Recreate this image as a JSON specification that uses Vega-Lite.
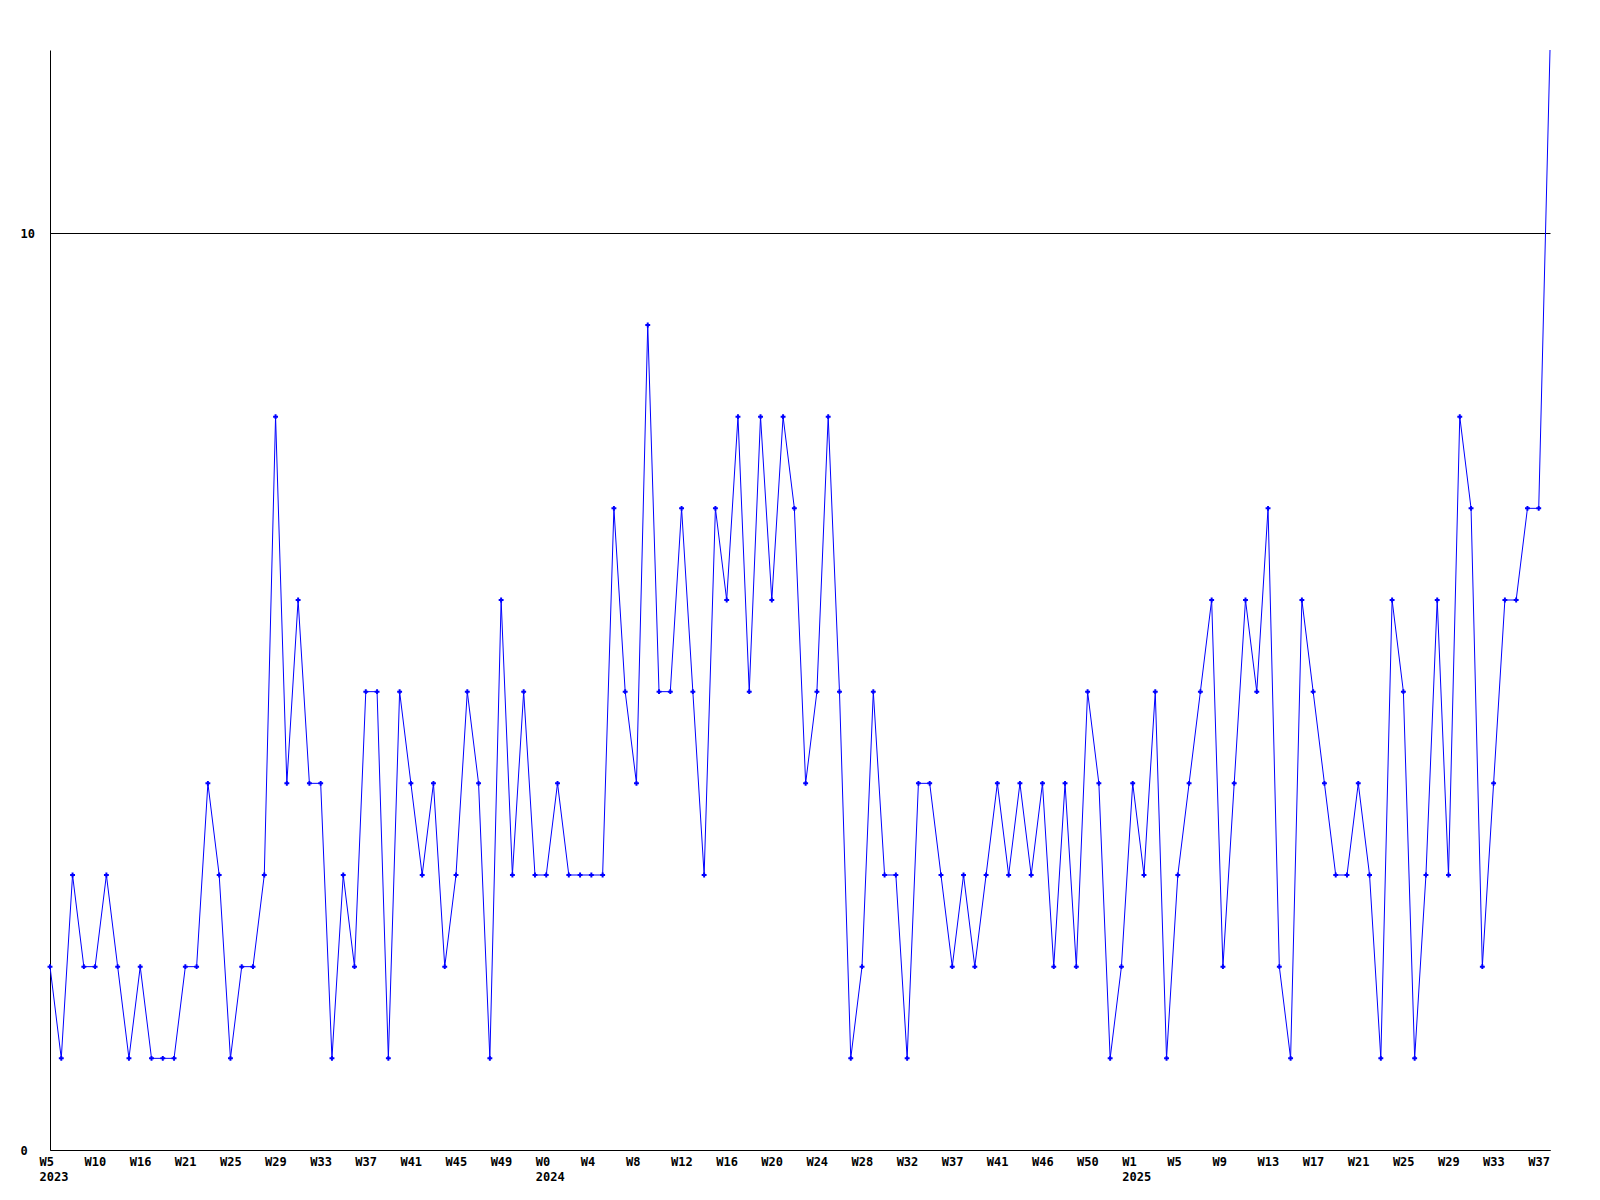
{
  "$schema": "https://vega.github.io/schema/vega-lite/v6.json",
  "autosize": {"type": "none"},
  "padding": {"left": 50, "top": 50, "right": 50, "bottom": 50},
  "width": 1500,
  "height": 1100,
  "background": "white",
  "config": {"view": {"stroke": null}},
  "data": {"values": [
    {"key": "0|W5|2023", "n": 2}, {"key": "1||", "n": 1}, {"key": "2||", "n": 3}, {"key": "3||", "n": 2},
    {"key": "4|W10|", "n": 2}, {"key": "5||", "n": 3}, {"key": "6||", "n": 2}, {"key": "7||", "n": 1},
    {"key": "8|W16|", "n": 2}, {"key": "9||", "n": 1}, {"key": "10||", "n": 1}, {"key": "11||", "n": 1},
    {"key": "12|W21|", "n": 2}, {"key": "13||", "n": 2}, {"key": "14||", "n": 4}, {"key": "15||", "n": 3},
    {"key": "16|W25|", "n": 1}, {"key": "17||", "n": 2}, {"key": "18||", "n": 2}, {"key": "19||", "n": 3},
    {"key": "20|W29|", "n": 8}, {"key": "21||", "n": 4}, {"key": "22||", "n": 6}, {"key": "23||", "n": 4},
    {"key": "24|W33|", "n": 4}, {"key": "25||", "n": 1}, {"key": "26||", "n": 3}, {"key": "27||", "n": 2},
    {"key": "28|W37|", "n": 5}, {"key": "29||", "n": 5}, {"key": "30||", "n": 1}, {"key": "31||", "n": 5},
    {"key": "32|W41|", "n": 4}, {"key": "33||", "n": 3}, {"key": "34||", "n": 4}, {"key": "35||", "n": 2},
    {"key": "36|W45|", "n": 3}, {"key": "37||", "n": 5}, {"key": "38||", "n": 4}, {"key": "39||", "n": 1},
    {"key": "40|W49|", "n": 6}, {"key": "41||", "n": 3}, {"key": "42||", "n": 5}, {"key": "43||", "n": 3},
    {"key": "44|W0|2024", "n": 3}, {"key": "45||", "n": 4}, {"key": "46||", "n": 3}, {"key": "47||", "n": 3},
    {"key": "48|W4|", "n": 3}, {"key": "49||", "n": 3}, {"key": "50||", "n": 7}, {"key": "51||", "n": 5},
    {"key": "52|W8|", "n": 4}, {"key": "53||", "n": 9}, {"key": "54||", "n": 5}, {"key": "55||", "n": 5},
    {"key": "56|W12|", "n": 7}, {"key": "57||", "n": 5}, {"key": "58||", "n": 3}, {"key": "59||", "n": 7},
    {"key": "60|W16|", "n": 6}, {"key": "61||", "n": 8}, {"key": "62||", "n": 5}, {"key": "63||", "n": 8},
    {"key": "64|W20|", "n": 6}, {"key": "65||", "n": 8}, {"key": "66||", "n": 7}, {"key": "67||", "n": 4},
    {"key": "68|W24|", "n": 5}, {"key": "69||", "n": 8}, {"key": "70||", "n": 5}, {"key": "71||", "n": 1},
    {"key": "72|W28|", "n": 2}, {"key": "73||", "n": 5}, {"key": "74||", "n": 3}, {"key": "75||", "n": 3},
    {"key": "76|W32|", "n": 1}, {"key": "77||", "n": 4}, {"key": "78||", "n": 4}, {"key": "79||", "n": 3},
    {"key": "80|W37|", "n": 2}, {"key": "81||", "n": 3}, {"key": "82||", "n": 2}, {"key": "83||", "n": 3},
    {"key": "84|W41|", "n": 4}, {"key": "85||", "n": 3}, {"key": "86||", "n": 4}, {"key": "87||", "n": 3},
    {"key": "88|W46|", "n": 4}, {"key": "89||", "n": 2}, {"key": "90||", "n": 4}, {"key": "91||", "n": 2},
    {"key": "92|W50|", "n": 5}, {"key": "93||", "n": 4}, {"key": "94||", "n": 1}, {"key": "95||", "n": 2},
    {"key": "96|W1|2025", "n": 4}, {"key": "97||", "n": 3}, {"key": "98||", "n": 5}, {"key": "99||", "n": 1},
    {"key": "100|W5|", "n": 3}, {"key": "101||", "n": 4}, {"key": "102||", "n": 5}, {"key": "103||", "n": 6},
    {"key": "104|W9|", "n": 2}, {"key": "105||", "n": 4}, {"key": "106||", "n": 6}, {"key": "107||", "n": 5},
    {"key": "108|W13|", "n": 7}, {"key": "109||", "n": 2}, {"key": "110||", "n": 1}, {"key": "111||", "n": 6},
    {"key": "112|W17|", "n": 5}, {"key": "113||", "n": 4}, {"key": "114||", "n": 3}, {"key": "115||", "n": 3},
    {"key": "116|W21|", "n": 4}, {"key": "117||", "n": 3}, {"key": "118||", "n": 1}, {"key": "119||", "n": 6},
    {"key": "120|W25|", "n": 5}, {"key": "121||", "n": 1}, {"key": "122||", "n": 3}, {"key": "123||", "n": 6},
    {"key": "124|W29|", "n": 3}, {"key": "125||", "n": 8}, {"key": "126||", "n": 7}, {"key": "127||", "n": 2},
    {"key": "128|W33|", "n": 4}, {"key": "129||", "n": 6}, {"key": "130||", "n": 6}, {"key": "131||", "n": 7},
    {"key": "132|W37|", "n": 7}, {"key": "133||", "n": 12}
  ]},
  "encoding": {
    "x": {
      "field": "key", "type": "ordinal", "sort": null,
      "scale": {"type": "point", "padding": 0},
      "axis": {
        "title": null, "ticks": false, "tickSize": 0, "grid": false,
        "domain": true, "domainColor": "black", "domainWidth": 1,
        "labelAngle": 0, "labelAlign": "left", "labelOffset": -11, "labelBaseline": "top",
        "labelPadding": 6, "labelLineHeight": 15, "labelOverlap": false, "labelBound": false, "labelFlush": false,
        "labelFont": "DejaVu Sans Mono", "labelFontWeight": "bold", "labelFontSize": 12, "labelColor": "black",
        "labelExpr": "split(datum.value, '|')[2] ? [split(datum.value, '|')[1], split(datum.value, '|')[2]] : split(datum.value, '|')[1]"
      }
    },
    "y": {
      "field": "n", "type": "quantitative",
      "scale": {"domain": [0, 12], "nice": false, "zero": true},
      "axis": {
        "title": null, "values": [0, 10], "ticks": false, "tickSize": 0,
        "grid": true, "gridColor": "black", "gridOpacity": 1, "gridWidth": 1,
        "domain": true, "domainColor": "black", "domainWidth": 1,
        "labelAlign": "left", "labelPadding": 30, "labelBaseline": "middle",
        "labelFont": "DejaVu Sans Mono", "labelFontWeight": "bold", "labelFontSize": 12, "labelColor": "black"
      }
    }
  },
  "layer": [
    {"mark": {"type": "line", "color": "#0000FF", "strokeWidth": 1, "interpolate": "linear"}},
    {
      "transform": [{"filter": "datum.n < 12"}],
      "mark": {"type": "point", "shape": "cross", "size": 24, "filled": true, "color": "#0000FF", "opacity": 1}
    }
  ]
}
